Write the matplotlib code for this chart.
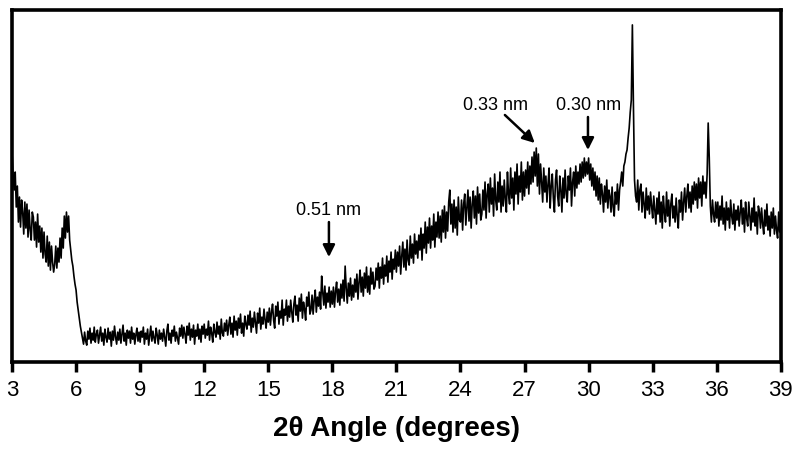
import numpy as np
import matplotlib
matplotlib.use("Agg")
import matplotlib.pyplot as plt

# 2-theta grid: 0.05 degree steps starting at 3
angle_start, angle_step = 3.0, 0.05

# intensity (arbitrary units), 20 values per degree
intensity = [
    # 3
    210, 188, 172, 190, 155, 176, 140, 165, 135, 162, 150, 128, 160, 134, 158, 125, 152, 132, 122, 150,
    # 4
    145, 122, 140, 115, 148, 120, 136, 110, 134, 104, 130, 108, 100, 126, 96, 120, 92, 116, 100, 90,
    # 5
    98, 116, 94, 114, 100, 124, 104, 134, 114, 146, 124, 150, 130, 146, 122, 112, 102, 96, 86, 78,
    # 6
    72, 60, 52, 44, 36, 30, 24, 18, 30, 21, 17, 31, 23, 34, 19, 29, 22, 35, 20, 28,
    # 7
    32, 19, 27, 35, 21, 29, 17, 33, 25, 20, 34, 23, 30, 16, 31, 22, 36, 25, 18, 30,
    # 8
    22, 33, 19, 28, 37, 21, 29, 17, 32, 24, 31, 19, 35, 23, 29, 18, 27, 34, 21, 30,
    # 9
    20, 31, 25, 35, 18, 29, 23, 33, 17, 27, 36, 21, 31, 24, 19, 34, 27, 18, 32, 23,
    # 10
    29, 21, 33, 25, 16, 31, 38, 22, 29, 19, 32, 26, 36, 21, 30, 24, 18, 34, 26, 37,
    # 11
    24, 35, 28, 19, 36, 27, 39, 22, 33, 25, 37, 18, 32, 26, 38, 23, 33, 20, 36, 28,
    # 12
    38, 24, 33, 27, 41, 22, 35, 29, 20, 38, 30, 25, 40, 28, 36, 23, 43, 29, 26, 39,
    # 13
    31, 42, 27, 37, 45, 28, 39, 25, 46, 32, 41, 27, 44, 34, 48, 29, 39, 26, 46, 38,
    # 14
    33, 47, 37, 51, 30, 44, 35, 50, 40, 29, 49, 39, 54, 33, 45, 38, 53, 42, 34, 50,
    # 15
    40, 54, 37, 50, 58, 42, 34, 56, 46, 60, 38, 51, 44, 62, 37, 53, 47, 62, 41, 56,
    # 16
    45, 62, 50, 40, 58, 66, 47, 57, 41, 64, 51, 68, 44, 60, 53, 42, 65, 56, 70, 48,
    # 17
    52, 67, 48, 62, 72, 50, 65, 56, 70, 53, 86, 70, 57, 76, 54, 69, 60, 75, 55, 71,
    # 18
    58, 75, 55, 71, 80, 60, 73, 57, 78, 64, 82, 61, 96, 74, 59, 79, 66, 84, 62, 77,
    # 19
    65, 83, 70, 88, 63, 80, 92, 70, 85, 66, 89, 74, 95, 70, 86, 68, 94, 78, 90, 73,
    # 20
    76, 94, 82, 99, 74, 95, 84, 104, 78, 97, 86, 106, 80, 101, 90, 110, 83, 103, 93, 112,
    # 21
    90, 110, 96, 116, 88, 106, 120, 95, 113, 92, 122, 102, 97, 126, 104, 118, 99, 128, 108, 121,
    # 22
    104, 127, 112, 134, 102, 128, 114, 140, 109, 135, 119, 144, 114, 136, 122, 148, 115, 140, 125, 150,
    # 23
    124, 146, 120, 152, 130, 156, 124, 150, 131, 160, 172, 138, 158, 130, 162, 134, 155, 127, 165, 142,
    # 24
    140, 162, 132, 158, 168, 137, 154, 172, 141, 165, 134, 158, 171, 144, 166, 138, 175, 149, 168, 142,
    # 25
    148, 172, 152, 180, 144, 168, 178, 150, 184, 158, 174, 146, 188, 162, 152, 180, 160, 190, 150, 176,
    # 26
    156, 182, 163, 150, 190, 168, 158, 194, 164, 184, 152, 190, 168, 198, 158, 186, 170, 200, 162, 190,
    # 27
    166, 192, 174, 200, 168, 196, 178, 205, 180, 210, 186, 214, 176, 208, 168, 198, 180, 160, 194, 170,
    # 28
    186, 160, 178, 194, 154, 176, 188, 164, 150, 182, 192, 166, 156, 186, 172, 150, 184, 164, 192, 168,
    # 29
    160, 186, 172, 194, 156, 180, 190, 166, 196, 174, 190, 178, 198, 180, 200, 184, 204, 186, 200, 188,
    # 30
    204, 182, 198, 176, 194, 172, 190, 166, 186, 162, 184, 158, 178, 168, 150, 176, 160, 182, 154, 172,
    # 31
    166, 150, 175, 155, 146, 170, 158, 178, 152, 172, 180, 190, 176, 196, 200, 208, 212, 224, 234, 250,
    # 32
    262, 337, 255, 182, 166, 160, 182, 152, 172, 178, 150, 170, 158, 144, 174, 152, 166, 148, 170, 156,
    # 33
    144, 166, 152, 138, 164, 148, 170, 140, 160, 134, 166, 150, 140, 170, 146, 162, 136, 158, 168, 144,
    # 34
    156, 140, 164, 146, 134, 162, 150, 170, 142, 160, 174, 150, 166, 178, 154, 170, 150, 176, 158, 180,
    # 35
    162, 178, 154, 184, 164, 180, 156, 186, 168, 180, 164, 188, 239, 204, 156, 140, 162, 148, 140, 160,
    # 36
    144, 160, 136, 156, 142, 166, 138, 154, 132, 160, 142, 154, 134, 162, 146, 138, 158, 132, 152, 142,
    # 37
    156, 136, 150, 162, 138, 154, 130, 160, 144, 136, 160, 146, 132, 154, 140, 164, 136, 150, 128, 156,
    # 38
    150, 134, 154, 138, 128, 152, 136, 158, 132, 146, 126, 150, 134, 154, 128, 146, 132, 124, 150, 130,
    # 39
    150,
]

x_ticks = [3, 6, 9, 12, 15, 18, 21, 24, 27, 30, 33, 36, 39]
x_label = "2θ Angle (degrees)"

# annotations: label, text position, arrow tail, arrow tip (data coords)
annot_labels = ["0.51 nm", "0.33 nm", "0.30 nm"]
annot_text_xy = [(17.84, 152), (25.66, 256), (30.00, 256)]
annot_tail_xy = [(17.84, 140), (26.08, 247), (29.97, 245)]
annot_tip_xy = [(17.84, 105), (27.48, 219), (29.97, 212)]

angles = angle_start + angle_step * np.arange(len(intensity))

plt.rcParams["font.family"] = ["Liberation Sans", "DejaVu Sans"]

fig = plt.figure(figsize=(8.0, 4.51), dpi=100)
ax = fig.add_axes([0.015, 0.197, 0.961, 0.781])

ax.plot(angles, intensity, color="black", lw=1.2)

ax.set_xlim(3, 39)
ax.set_ylim(0, 352)
ax.set_xticks(x_ticks)
ax.set_xticklabels([str(t) for t in x_ticks], fontsize=16)
ax.set_yticks([])
ax.tick_params(axis="x", direction="out", length=7, width=2.5, pad=6)
for s in ax.spines.values():
    s.set_linewidth(2.6)

ax.set_xlabel(x_label, fontsize=20, fontweight="bold", labelpad=11)

for lab, txy, tail, tip in zip(annot_labels, annot_text_xy, annot_tail_xy, annot_tip_xy):
    ax.text(txy[0], txy[1], lab, ha="center", va="center", fontsize=13)
    ax.annotate("", xy=tip, xytext=tail,
                arrowprops=dict(arrowstyle="-|>", color="black", lw=1.8,
                                mutation_scale=18, shrinkA=0, shrinkB=0))

fig.savefig("out.png", dpi=100)
